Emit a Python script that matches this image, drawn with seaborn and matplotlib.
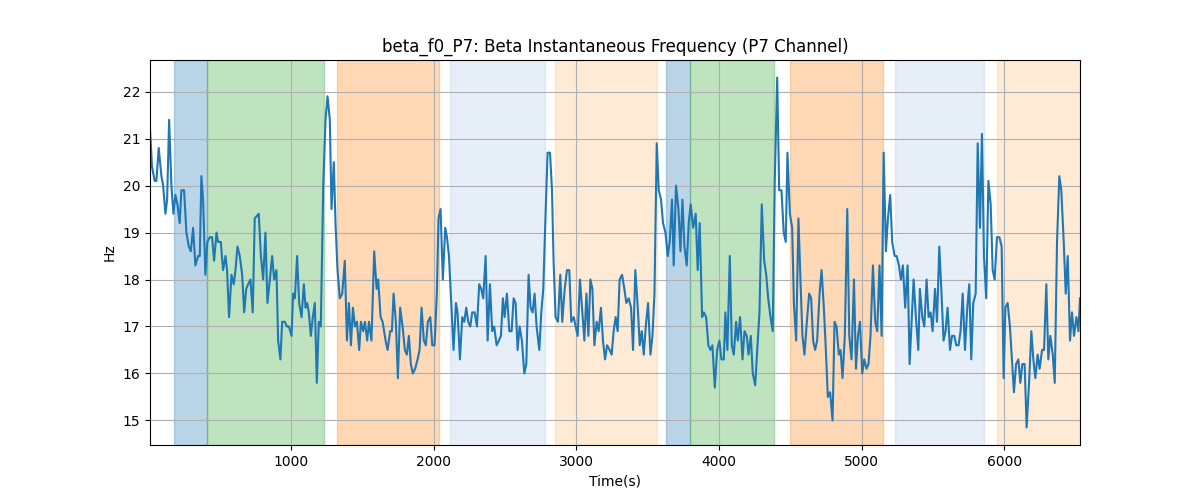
import pandas as pd
import seaborn as sns
import matplotlib
matplotlib.use("Agg")
import matplotlib.pyplot as plt

# time axis (seconds) and beta instantaneous frequency (Hz)
time_s = [
    13, 27, 46, 58, 74, 93, 105, 121, 133, 147, 163, 177, 191, 205, 221, 233, 252, 268, 285, 299,
    315, 331, 350, 362, 373, 385, 401, 415, 432, 448, 462, 479, 490, 509, 525, 542, 553, 567, 584, 600,
    612, 626, 642, 659, 673, 687, 701, 717, 733, 747, 775, 790, 806, 822, 836, 853, 869, 883, 899, 911,
    927, 939, 958, 972, 986, 1005, 1016, 1028, 1044, 1058, 1075, 1091, 1103, 1114, 1126, 1140, 1154, 1168, 1182, 1196,
    1210, 1227, 1243, 1257, 1273, 1285, 1301, 1313, 1327, 1343, 1360, 1378, 1393, 1407, 1421, 1435, 1449, 1463, 1479, 1491,
    1507, 1519, 1535, 1547, 1565, 1584, 1601, 1612, 1629, 1643, 1664, 1678,
    1696, 1708, 1720, 1736, 1750, 1766, 1783, 1799, 1813, 1827, 1841, 1855, 1871, 1888, 1902, 1916, 1932, 1946, 1960, 1977,
    1991, 2007, 2023, 2035, 2049, 2065, 2082, 2094, 2108, 2124, 2140, 2157, 2168, 2185, 2201, 2215, 2229, 2243, 2257, 2271,
    2288, 2304, 2320, 2334, 2348, 2365, 2379, 2395, 2411, 2425, 2442, 2458, 2472, 2486, 2498, 2514, 2531, 2547, 2561, 2575,
    2589, 2603, 2619, 2636, 2650, 2666, 2680, 2694, 2708, 2722, 2741, 2755, 2769, 2785, 2799, 2816, 2830, 2841, 2855, 2872,
    2888, 2902, 2919, 2935, 2951, 2965, 2982, 2996, 3010, 3026, 3040, 3057, 3071, 3085, 3099, 3113, 3127, 3143, 3157, 3173,
    3187, 3202, 3216, 3234, 3248, 3262, 3276, 3290, 3304,
    3321, 3337, 3351, 3368, 3384, 3398, 3414, 3431, 3445, 3459, 3473, 3487, 3503, 3520, 3534, 3548, 3564, 3578, 3594, 3608,
    3625, 3641, 3655, 3671, 3683, 3699, 3716, 3730, 3744, 3758, 3774, 3788, 3802, 3819, 3837, 3851, 3865, 3882, 3894, 3910,
    3926, 3940, 3954, 3971, 3987, 4003, 4017, 4034, 4045, 4059, 4076, 4090, 4104, 4120, 4132, 4148, 4165, 4179, 4195, 4207,
    4223, 4237, 4254, 4270, 4284, 4300, 4317, 4331, 4345, 4361, 4377, 4391, 4408, 4422, 4438, 4454, 4468, 4480, 4497, 4513,
    4525, 4541, 4557, 4571, 4585, 4599, 4616, 4632, 4646, 4660, 4674, 4688, 4705, 4719, 4735, 4749, 4763, 4779, 4796, 4810,
    4824, 4840, 4852, 4866, 4882, 4899, 4913,
    4929, 4946, 4960, 4974, 4988, 5004, 5018, 5034, 5048, 5062, 5079, 5095, 5109, 5125, 5140, 5154, 5170, 5184, 5200, 5214,
    5231, 5245, 5261, 5275, 5289, 5305, 5322, 5336, 5350, 5364, 5380, 5397, 5408, 5425, 5439, 5455, 5469, 5483, 5497, 5514,
    5528, 5544, 5558, 5574, 5588, 5602, 5619, 5633, 5649, 5663, 5679, 5693, 5708, 5724, 5740, 5754, 5768, 5782, 5799, 5813,
    5829, 5843, 5857, 5873, 5888, 5904, 5918, 5932, 5948, 5965, 5981, 5995, 6007, 6023, 6039, 6053, 6067, 6082, 6098, 6112,
    6126, 6142, 6156, 6173, 6189, 6203, 6217, 6233, 6247, 6264, 6278, 6294, 6308, 6322, 6339, 6353, 6369, 6385, 6399, 6416,
    6430, 6444, 6460, 6474, 6488, 6505, 6519, 6530,
]

beta_hz = [
    21.2, 20.4, 20.1, 20.1, 20.8, 20.2, 20.0, 19.4, 19.7, 21.4, 20.0, 19.4, 19.8, 19.6, 19.2, 19.9, 19.9, 19.0, 18.7, 18.6,
    19.1, 18.3, 18.5, 18.5, 20.2, 19.7, 18.1, 18.8, 18.9, 18.9, 18.4, 19.0, 18.8, 18.8, 18.2, 18.5, 18.2, 17.2, 18.1, 17.9,
    18.2, 18.7, 18.5, 18.1, 17.3, 17.8, 17.9, 18.0, 17.3, 19.3, 19.4, 18.5, 18.0, 19.0, 17.5, 18.0, 18.5, 18.0, 18.2, 16.7,
    16.3, 17.1, 17.1, 17.0, 17.0, 16.8, 17.7, 17.6, 18.5, 17.5, 17.2, 17.9, 17.4, 17.5, 17.3, 16.8, 17.2, 17.5, 15.8, 17.1,
    17.0, 20.0, 21.4, 21.9, 21.4, 19.5, 20.5, 19.2, 18.2, 17.6, 17.7, 18.4, 16.7, 17.5, 16.6, 17.4, 17.0, 17.1, 16.5, 17.1,
    16.9, 17.1, 16.7, 17.1, 16.7, 18.6, 17.8, 18.0, 17.2, 17.1, 16.7, 16.5,
    16.9, 16.9, 17.7, 17.1, 15.9, 17.4, 17.0, 16.5, 16.4, 16.8, 16.2, 16.0, 16.1, 16.3, 16.5, 17.4, 16.7, 16.6, 17.1, 17.2,
    16.6, 16.6, 17.7, 19.3, 19.5, 18.0, 19.1, 18.9, 18.5, 17.5, 16.5, 17.5, 17.3, 16.3, 17.2, 17.1, 17.4, 17.1, 17.0, 17.3,
    17.3, 17.0, 17.9, 17.8, 17.6, 18.5, 16.7, 17.9, 16.9, 17.0, 16.6, 16.7, 16.8, 17.6, 17.2, 17.7, 16.9, 16.9, 17.6, 17.5,
    16.5, 17.0, 16.7, 16.0, 16.2, 18.1, 17.4, 17.3, 17.7, 17.0, 16.5, 17.3, 17.8, 19.4, 20.7, 20.7, 19.9, 18.4, 17.2, 17.1,
    18.1, 17.1, 17.8, 18.2, 18.2, 17.1, 17.2, 17.0, 16.8, 18.0, 17.4, 16.7, 17.7, 16.8, 18.0, 17.8, 16.6, 17.1, 16.9, 17.4,
    16.7, 16.3, 16.6, 16.5, 16.4, 16.9, 17.2, 16.9, 18.0,
    18.1, 17.8, 17.5, 17.6, 17.4, 16.5, 18.2, 17.4, 16.6, 16.9, 16.4, 17.0, 17.5, 16.4, 16.8, 17.7, 20.9, 19.9, 19.7, 19.2,
    19.0, 18.5, 18.8, 19.7, 18.3, 20.0, 19.5, 18.6, 19.7, 18.7, 18.3, 19.2, 19.6, 19.1, 19.4, 18.2, 19.2, 17.2, 17.3, 17.2,
    16.6, 16.5, 16.6, 15.7, 16.5, 16.7, 16.3, 16.3, 17.3, 16.5, 18.5, 16.6, 16.4, 17.1, 16.7, 17.2, 16.3, 16.9, 16.8, 16.4,
    16.8, 16.0, 15.75, 16.6, 17.3, 19.6, 18.4, 18.1, 17.6, 17.2, 16.9, 20.1, 22.3, 19.9, 19.9, 19.0, 18.8, 20.7, 19.4, 19.1,
    17.5, 16.7, 19.3, 18.0, 16.8, 16.4, 17.1, 17.7, 17.6, 16.7, 16.5, 16.7, 17.7, 18.2, 17.4, 16.5, 15.5, 15.6, 15.0, 17.1,
    17.0, 16.4, 16.5, 15.9, 16.8, 19.5, 16.8,
    16.3, 18.0, 16.1, 16.8, 17.1, 16.0, 16.3, 16.1, 16.2, 16.8, 18.3, 17.1, 16.9, 18.3, 16.8, 20.7, 18.6, 19.3, 19.8, 18.8,
    18.5, 18.5, 18.3, 18.0, 18.3, 17.4, 18.3, 16.2, 17.1, 18.0, 17.2, 16.5, 17.8, 17.2, 17.0, 18.0, 17.2, 17.3, 16.9, 17.8,
    17.1, 18.7, 17.8, 16.7, 16.9, 17.4, 16.5, 16.8, 16.8, 16.6, 16.6, 16.9, 17.7, 16.5, 17.4, 17.9, 16.3, 17.5, 17.7, 20.9,
    19.1, 21.1, 18.5, 17.6, 20.1, 19.6, 18.2, 18.0, 18.9, 18.9, 18.7, 15.9, 17.4, 17.5, 17.0, 16.3, 15.6, 16.2, 16.3, 15.8,
    16.2, 16.2, 14.85, 15.8, 16.9, 16.3, 15.9, 16.4, 16.1, 16.5, 16.5, 17.9, 16.3, 16.8, 16.4, 15.8, 18.8, 20.2, 19.9, 18.8,
    17.7, 18.5, 16.7, 17.3, 16.8, 17.2, 16.9, 17.6,
]

# shaded segments (start, end in seconds) and their colours
span_starts = [182, 415, 1320, 2117, 2853, 3632, 3795, 4501, 5231, 5946]
span_ends = [415, 1231, 2035, 2781, 3566, 3795, 4384, 5151, 5859, 6560]
span_colors = ["tab:blue", "tab:green", "tab:orange", "#aec7e8", "#ffbb78",
               "tab:blue", "tab:green", "tab:orange", "#aec7e8", "#ffbb78"]

df = pd.DataFrame({"time": time_s, "hz": beta_hz})

fig, ax = plt.subplots(figsize=(12, 5), dpi=100)

for start, end, color in zip(span_starts, span_ends, span_colors):
    ax.axvspan(start, end, color=color, alpha=0.3)

sns.lineplot(data=df, x="time", y="hz", ax=ax, color="tab:blue", linewidth=1.5)

ax.set_xlim(df["time"].min(), df["time"].max())
ax.grid(True)
ax.set_title("beta_f0_P7: Beta Instantaneous Frequency (P7 Channel)")
ax.set_xlabel("Time(s)")
ax.set_ylabel("Hz")

plt.savefig("out.png", dpi=100)
